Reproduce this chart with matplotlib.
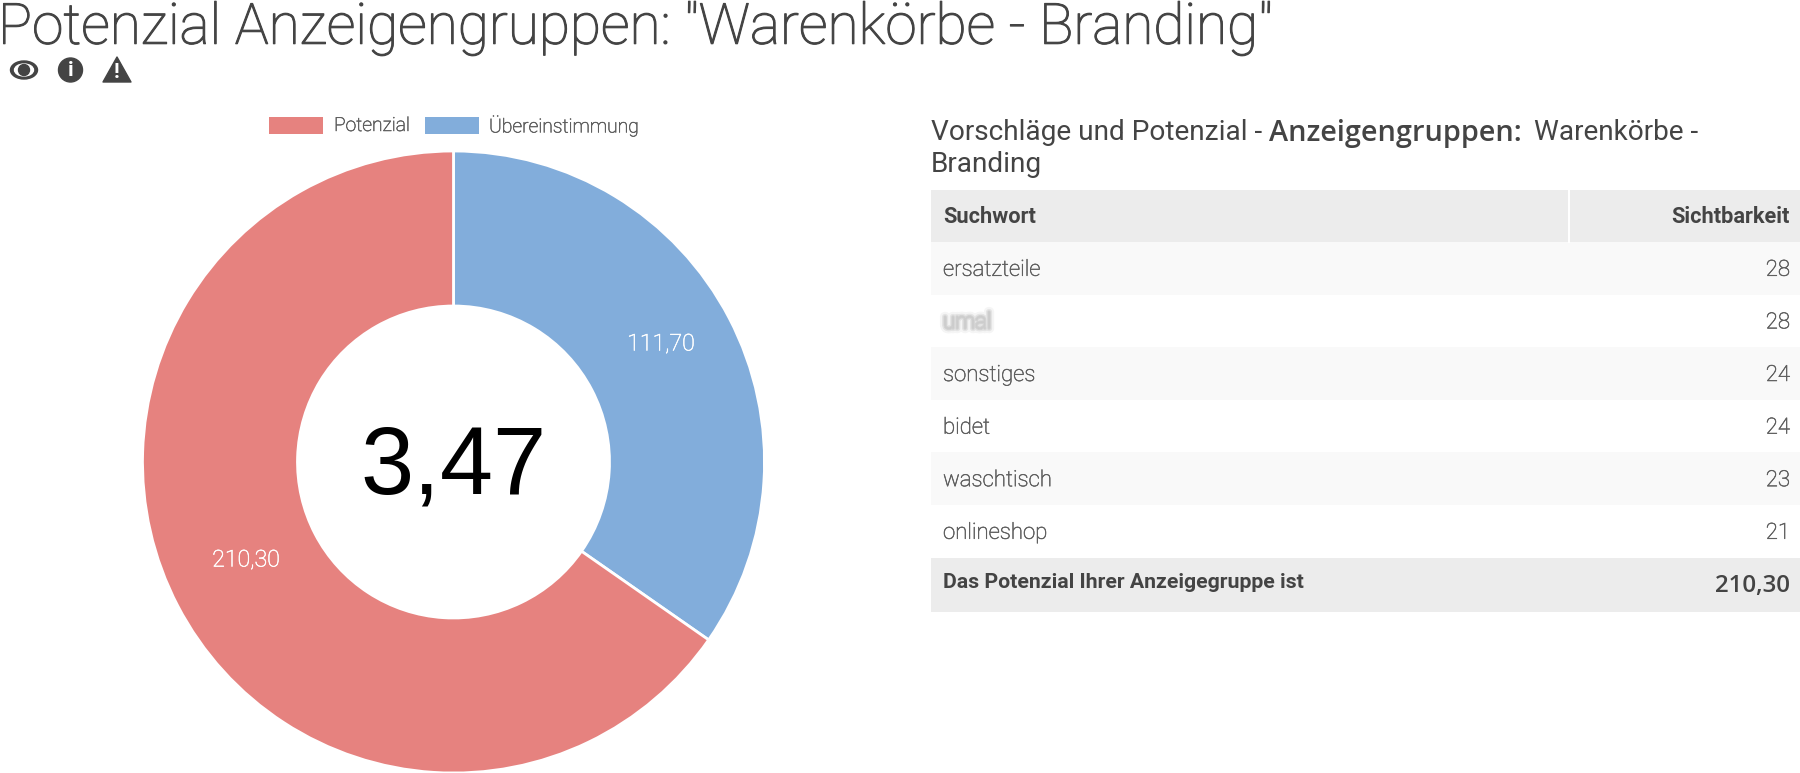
import matplotlib
matplotlib.use("Agg")
import matplotlib.pyplot as plt
from matplotlib.patches import Rectangle, Circle, Polygon, Ellipse
import matplotlib.patheffects as pe

W, H = 1800, 773
labels = ["Übereinstimmung", "Potenzial"]
values = [111.70, 210.30]
value_labels = ["111,70", "210,30"]
score = "3,47"
keywords = ["ersatzteile", "umal", "sonstiges", "bidet", "waschtisch", "onlineshop"]
visibility = [28, 28, 24, 24, 23, 21]
total_label = "Das Potenzial Ihrer Anzeigegruppe ist"
total_value = "210,30"
title = 'Potenzial Anzeigengruppen: "Warenkörbe - Branding"'

RED, BLUE = "#E6827F", "#82ADDB"
DARK, GREY = "#444444", "#5F5F5F"
plt.rcParams["font.family"] = ["Roboto", "DejaVu Sans"]
S = 100 / 72


def thick(color, lw):
    return [pe.withStroke(linewidth=lw, foreground=color)]


fig = plt.figure(figsize=(W / 100, H / 100), dpi=100, facecolor="white")

# donut
cx, cy, R, r = 453.5, 462, 311, 156
pie_ax = fig.add_axes([(cx - R) / W, 1 - (cy + R) / H, 2 * R / W, 2 * R / H])
wedges, _ = pie_ax.pie(values, colors=[BLUE, RED], startangle=90, counterclock=False,
                       radius=1, wedgeprops=dict(width=1 - r / R, edgecolor="white", linewidth=2))
pie_ax.set_xlim(-1, 1)
pie_ax.set_ylim(-1, 1)
pie_ax.set_aspect("equal")
pie_ax.patch.set_alpha(0)

# overlay in pixel coordinates
ax = fig.add_axes([0, 0, 1, 1], zorder=5)
ax.set_xlim(0, W)
ax.set_ylim(H, 0)
ax.axis("off")
ax.patch.set_alpha(0)

ax.text(-2, 28, title, fontsize=29.4 * S, color=DARK, fontweight="light", va="center", ha="left",
        path_effects=thick(DARK, 0.8))

# icons
ax.add_patch(Ellipse((24, 70), 27, 18, color=DARK))
ax.add_patch(Ellipse((24, 70), 19, 12, color="white"))
ax.add_patch(Circle((24, 70), 5.5, color=DARK))
ax.add_patch(Circle((70.5, 70), 12, color=DARK))
ax.text(70.5, 70, "i", color="white", fontsize=11 * S, fontweight="bold", ha="center", va="center")
ax.add_patch(Polygon([(117, 57), (131, 82), (103, 82)], closed=True, color=DARK, joinstyle="round"))
ax.text(117, 72, "!", color="white", fontsize=11 * S, fontweight="bold", ha="center", va="center")

# legend
ax.add_patch(Rectangle((269, 117), 54, 17, color=RED, lw=0))
ax.text(334, 126, "Potenzial", fontsize=10 * S, color=GREY, fontweight="light", va="center",
        path_effects=thick(GREY, 0.4))
ax.add_patch(Rectangle((425, 117), 54, 17, color=BLUE, lw=0))
ax.text(489, 126, "Übereinstimmung", fontsize=10 * S, color=GREY, fontweight="light", va="center",
        path_effects=thick(GREY, 0.4))

# donut labels
ax.text(661, 344, value_labels[0], fontsize=12 * S, color="white", fontweight="light", ha="center", va="center",
        path_effects=thick("white", 0.4))
ax.text(246, 560, value_labels[1], fontsize=12 * S, color="white", fontweight="light", ha="center", va="center",
        path_effects=thick("white", 0.4))
ax.text(453, 468, score, fontsize=49.6 * S, color="black", ha="center", va="center",
        family=["Liberation Sans", "DejaVu Sans"])

# table title
ax.text(931, 133, "Vorschläge und Potenzial - ", fontsize=14.5 * S, color=DARK, va="center", ha="left")
ax.text(1269, 133, "Anzeigengruppen:", fontsize=15 * S, color=DARK, fontweight=600, va="center", ha="left",
        family=["Open Sans", "DejaVu Sans"])
ax.text(1534, 133, "Warenkörbe -", fontsize=14.5 * S, color=DARK, va="center", ha="left")
ax.text(931, 164, "Branding", fontsize=14.5 * S, color=DARK, va="center", ha="left")

# table
X0, X1 = 931, 1800
ax.add_patch(Rectangle((X0, 190), X1 - X0, 52, color="#ECECEC", lw=0))
ax.plot([1569, 1569], [190, 242], color="white", lw=1.5)
ax.text(943, 217, "Suchwort", fontsize=11.3 * S, color=DARK, fontweight="bold", va="center")
ax.text(1790, 217, "Sichtbarkeit", fontsize=11.3 * S, color=DARK, fontweight="bold", va="center", ha="right")
row_h = 52.6
y = 242
for i, (k, v) in enumerate(zip(keywords, visibility)):
    if i % 2 == 0:
        ax.add_patch(Rectangle((X0, y), X1 - X0, row_h, color="#F9F9F9", lw=0))
    t = ax.text(943, y + row_h / 2 + 2, k, fontsize=11.5 * S, color=GREY, fontweight="light", va="center",
                path_effects=thick(GREY, 0.4))
    if k == "umal":
        t.set_color("#CFCFCF")
        t.set_path_effects([pe.withStroke(linewidth=7, foreground="#E4E4E4", alpha=0.35),
                            pe.withStroke(linewidth=4, foreground="#D4D4D4", alpha=0.5),
                            pe.withStroke(linewidth=2, foreground="#C8C8C8", alpha=0.6)])
    ax.text(1790, y + row_h / 2 + 2, str(v), fontsize=11.5 * S, color=GREY, fontweight="light", va="center", ha="right",
            path_effects=thick(GREY, 0.4))
    y += row_h
ax.add_patch(Rectangle((X0, y), X1 - X0, 612 - y, color="#ECECEC", lw=0))
ax.text(943, 583, total_label, fontsize=11 * S, color=DARK, fontweight="bold", va="center")
ax.text(1790, 586, total_value, fontsize=12.5 * S, color=DARK, fontweight=600, va="center", ha="right",
        family=["Open Sans", "DejaVu Sans"])

fig.savefig("out.png", dpi=100, facecolor="white")
